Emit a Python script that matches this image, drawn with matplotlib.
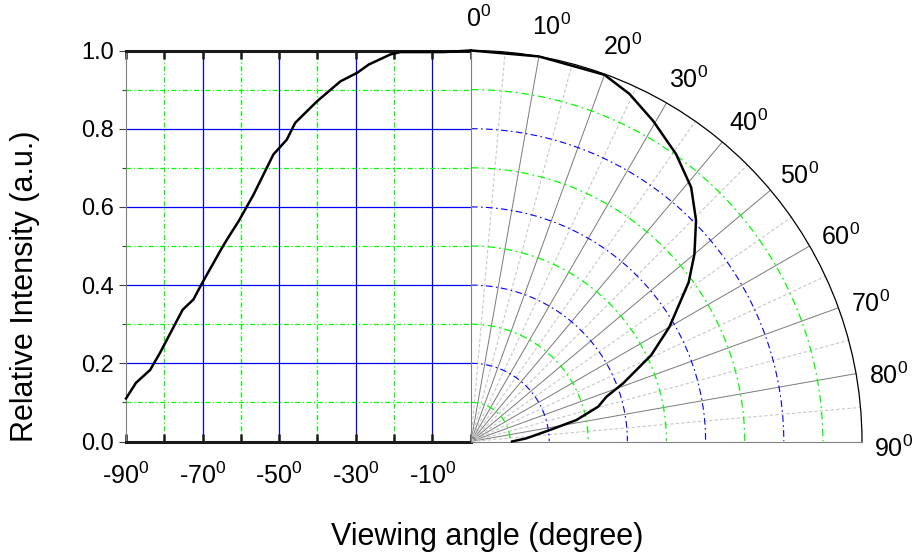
import numpy as np
import matplotlib.pyplot as plt

plt.rcParams['font.family'] = ['Liberation Sans', 'DejaVu Sans']
plt.rcParams['mathtext.fontset'] = 'custom'
plt.rcParams['mathtext.rm'] = 'Liberation Sans'
plt.rcParams['mathtext.it'] = 'Liberation Sans:italic'
plt.rcParams['mathtext.bf'] = 'Liberation Sans:bold'

# left panel: intensity vs negative viewing angle
left_angle = [-90, -87.4, -83.7, -81.1, -75.2, -72.4, -70.4, -65, -63.6, -60.6,
              -56.7, -51.5, -48, -45.8, -40.1, -34, -29.6, -26.6, -20.9, -18.3,
              -7, 0]
left_int = [0.11, 0.15, 0.183, 0.227, 0.337, 0.363, 0.40, 0.494, 0.517, 0.563,
            0.631, 0.734, 0.772, 0.815, 0.870, 0.921, 0.943, 0.964, 0.99, 0.996,
            0.996, 1.0]

# right panel: polar pattern for positive angles
polar_angle = [0, 10, 20, 24.5, 29.6, 35.5, 40.9, 45.5, 50, 53.8, 60, 64.4,
               69.1, 71.7, 74.7, 78.5, 81.7, 86.7, 90]
polar_int = [1.0, 1.0, 0.998, 0.977, 0.943, 0.903, 0.86, 0.807, 0.746, 0.69,
             0.586, 0.511, 0.416, 0.365, 0.337, 0.275, 0.204, 0.142, 0.105]

x_ticks = list(range(-90, 1, 10))
x_labelled = [-90, -70, -50, -30, -10]
y_ticks = [0.0, 0.2, 0.4, 0.6, 0.8, 1.0]
y_minor = [0.1, 0.3, 0.5, 0.7, 0.9]
x_blue = [-70, -50, -30, -10]
x_green = [-80, -60, -40, -20]
y_blue = [0.2, 0.4, 0.6, 0.8]
y_green = [0.1, 0.3, 0.5, 0.7, 0.9]

polar_labels = list(range(0, 91, 10))
polar_solid = list(range(10, 90, 10))
polar_dashed = list(range(5, 90, 10))
circ_blue = [0.2, 0.4, 0.6, 0.8]
circ_green = [0.1, 0.3, 0.5, 0.7, 0.9]

W, H = 913, 559
fig = plt.figure(figsize=(W / 100, H / 100), dpi=100)

# ---- left cartesian panel
ax = fig.add_axes([126 / W, 117.5 / H, 344.5 / W, 391 / H])
ax.set_xlim(-90, 0)
ax.set_ylim(0, 1)
for v in x_blue:
    ax.axvline(v, color='#0000ff', lw=0.9, zorder=1)
for v in x_green:
    ax.axvline(v, color='#00ff00', lw=0.9, dashes=(4, 2, 1, 2), zorder=1)
for v in y_blue:
    ax.axhline(v, color='#0000ff', lw=0.9, zorder=1)
for v in y_green:
    ax.axhline(v, color='#00ff00', lw=0.9, dashes=(4, 2, 1, 2), zorder=1)
ax.plot(left_angle, left_int, color='black', lw=1.8, zorder=3, clip_on=False)

ax.spines['right'].set_visible(False)
ax.spines['left'].set_color('#808080')
ax.spines['left'].set_linewidth(0.8)
for s in ['top', 'bottom']:
    ax.spines[s].set_color('#1a1a1a')
    ax.spines[s].set_linewidth(2.2)

ax.set_xticks(x_ticks)
ax.set_xticklabels([f'{v}$^0$' if v in x_labelled else '' for v in x_ticks])
ax.tick_params(axis='x', direction='in', length=6, width=1.8, top=True,
               labelsize=18, pad=15, color='#1a1a1a')
ax.set_yticks(y_ticks)
ax.set_yticklabels([f'{v:.1f}' for v in y_ticks])
ax.set_yticks(y_minor, minor=True)
ax.tick_params(axis='y', which='major', direction='out', length=5, width=0.8,
               labelsize=17, pad=4, color='#404040')
ax.tick_params(axis='y', which='minor', direction='out', length=3, width=0.8,
               color='#404040')

# ---- right polar panel
axp = fig.add_axes([471 / W, 117.5 / H, 391 / W, 391 / H], projection='polar')
axp.set_theta_zero_location('N')
axp.set_theta_direction(-1)
axp.set_thetamin(0)
axp.set_thetamax(90)
axp.set_rlim(0, 1)
axp.grid(False)
axp.set_xticks(np.deg2rad(np.arange(0, 91, 5)))
axp.set_xticklabels([])
axp.set_yticks([])
axp.tick_params(axis='x', direction='in', length=4, width=0.8, color='black')
axp.spines['polar'].set_linewidth(0.9)
axp.spines['polar'].set_color('black')
for s in ['start', 'end']:
    axp.spines[s].set_color('#808080')
    axp.spines[s].set_linewidth(0.8)

for a in polar_solid:
    axp.plot([np.deg2rad(a)] * 2, [0, 1], color='#7a7a7a', lw=0.7, zorder=1)
for a in polar_dashed:
    axp.plot([np.deg2rad(a)] * 2, [0, 1], color='#c8c8c8', lw=0.8,
             dashes=(3, 2), zorder=1)
theta = np.linspace(0, np.pi / 2, 200)
for r in circ_blue:
    axp.plot(theta, np.full_like(theta, r), color='#0000ff', lw=0.8,
             dashes=(6, 3, 1.5, 3), zorder=1)
for r in circ_green:
    axp.plot(theta, np.full_like(theta, r), color='#00ff00', lw=0.9,
             dashes=(6, 3, 1.5, 3), zorder=1)
axp.plot(np.deg2rad(polar_angle), polar_int, color='black', lw=1.8, zorder=3,
         clip_on=False)

for a in polar_labels:
    axp.text(np.deg2rad(a + 1), 1.08, f'{a}$^0$', ha='center', va='center',
             fontsize=18, clip_on=False)

fig.text(25 / W, 1 - 286 / H, 'Relative Intensity (a.u.)', rotation=90,
         ha='center', va='center', fontsize=22)
fig.text(487 / W, 1 - 537 / H, 'Viewing angle (degree)', ha='center',
         va='center', fontsize=22)

fig.savefig('out.png', dpi=100)
